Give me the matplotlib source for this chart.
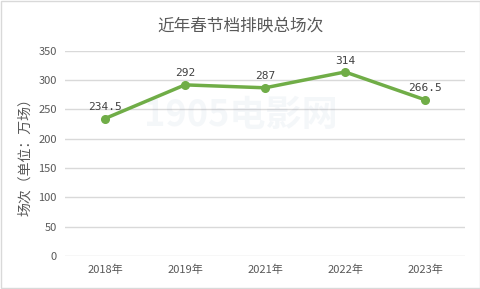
import matplotlib
matplotlib.use('Agg')
import matplotlib.pyplot as plt
from matplotlib.patches import Rectangle

plt.rcParams['font.family'] = ['Noto Sans CJK SC', 'DejaVu Sans']

years = ['2018年', '2019年', '2021年', '2022年', '2023年']
shows = [234.5, 292, 287, 314, 266.5]
labels = ['234.5', '292', '287', '314', '266.5']
yticks = [0, 50, 100, 150, 200, 250, 300, 350]

fig = plt.figure(figsize=(4.81, 2.89), dpi=100)
ax = fig.add_axes([0.135, 0.114, 0.832, 0.71])

# frame around the whole picture
fig.patches.append(Rectangle((0.002, 0.003), 0.996, 0.994, transform=fig.transFigure,
                             fill=False, edgecolor='#d9d9d9', linewidth=1))

# watermark
fig.text(0.5, 0.6, '1905电影网', fontsize=26, color='#6f8fb5', alpha=0.07,
         ha='center', va='center', fontweight='bold')

x = list(range(len(years)))
ax.plot(x, shows, color='#70ad47', linewidth=2.5, marker='o', markersize=5.5, zorder=3)
for xi, v, t in zip(x, shows, labels):
    ax.text(xi, v + 11, t, ha='center', va='bottom', fontsize=8, color='#404040',
            family=['DejaVu Sans Mono', 'DejaVu Sans'])

ax.set_xlim(-0.5, len(years) - 0.5)
ax.set_ylim(0, 350)
ax.set_yticks(yticks)
ax.set_xticks(x)
ax.set_xticklabels(years)
ax.grid(axis='y', color='#d9d9d9', linewidth=1)
ax.set_axisbelow(True)
for s in ax.spines.values():
    s.set_visible(False)
ax.tick_params(length=0, labelsize=8, colors='#595959', pad=6)
ax.set_ylabel('场次（单位：万场）', fontsize=10, color='#595959', labelpad=4)

fig.suptitle('近年春节档排映总场次', y=0.94, fontsize=12, color='#595959')

fig.savefig('out.png', dpi=100)
